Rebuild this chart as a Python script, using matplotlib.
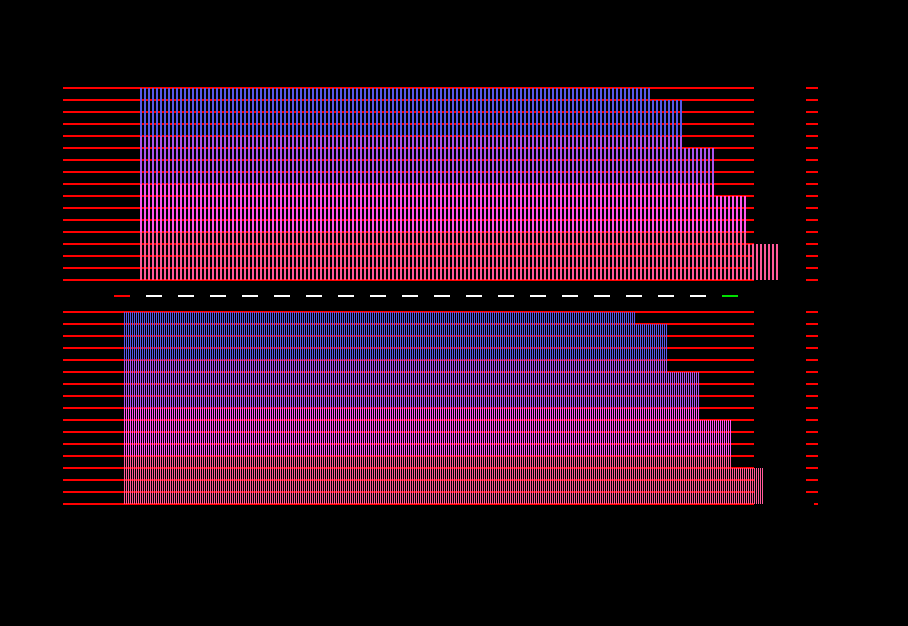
import matplotlib
matplotlib.use("Agg")
import matplotlib.pyplot as plt
import numpy as np

# grid levels shared by both panels (0 at bottom, 16 at top)
levels = np.arange(17)

# bar groups: how many thin bars in each step of the staircase
top_counts = [128, 8, 8, 8, 8]
bottom_counts = [256, 16, 16, 16, 16]

# stacked segment heights per group, bottom -> top
seg_pink = [4, 4, 4, 4, 3]
seg_magenta = [4, 4, 4, 3, 0]
seg_purple = [4, 4, 3, 0, 0]
seg_blue = [4, 3, 0, 0, 0]
segments = [seg_pink, seg_magenta, seg_purple, seg_blue]
seg_colors = ["#ff5a9a", "#ff55ee", "#aa55ee", "#5858e8"]

# dashed strip between the panels
strip_colors = ["#ff0000"] + ["#ffffff"] * 18 + ["#00e000"]

W, H = 908, 626
fig = plt.figure(figsize=(W / 100, H / 100), dpi=100)
fig.patch.set_facecolor("black")

def px_axes(x0, x1, y0, y1):
    # pixel box (from top-left) -> figure fraction axes
    ax = fig.add_axes([x0 / W, 1 - y1 / H, (x1 - x0) / W, (y1 - y0) / H])
    ax.set_facecolor("black")
    return ax

def draw_panel(ax, counts, step, first_px):
    n = sum(counts)
    x = np.arange(n)
    # map pixels so bar i sits at first_px + step*i, axes span 64..818
    ax.set_xlim((64 - first_px) / step, (818 - first_px) / step)
    ax.set_ylim(0, 16)
    bottom = np.zeros(n)
    for seg, col in zip(segments, seg_colors):
        h = np.repeat(seg, counts).astype(float)
        ax.bar(x, h, bottom=bottom, width=0.5, color=col, linewidth=0,
               antialiased=False, zorder=3)
        bottom += h
    for lv in levels:
        ax.axhline(lv, xmin=0, xmax=(753 - 64) / 754, color="#ff0000",
                   lw=1.44, clip_on=False, zorder=2)
    for s in ax.spines.values():
        s.set_visible(False)
    ax.set_xticks([])
    ax.yaxis.tick_right()
    ax.tick_params(axis="y", which="both", direction="in", colors="#ff0000",
                   width=1.44, labelright=False, labelleft=False)

ax_top = px_axes(64, 818, 88, 280)
draw_panel(ax_top, top_counts, 4, 141)
ax_top.set_yticks(levels)
ax_top.tick_params(axis="y", length=8.64)

ax_bot = px_axes(64, 818, 312, 504)
draw_panel(ax_bot, bottom_counts, 2, 124.5)
ax_bot.set_yticks(levels[1:])
ax_bot.set_yticks([0], minor=True)
ax_bot.tick_params(axis="y", which="major", length=8.64)
ax_bot.tick_params(axis="y", which="minor", length=2.9)

# dashed strip
ax_mid = px_axes(106, 746, 290, 302)
ax_mid.axis("off")
ax_mid.set_xlim(-0.5, len(strip_colors) - 0.5)
ax_mid.set_ylim(-1, 1)
idx = np.arange(len(strip_colors))
ax_mid.hlines(np.zeros(len(idx)), idx - 0.25, idx + 0.25, colors=strip_colors, lw=1.44)

fig.savefig("out.png", dpi=100, facecolor="black")
